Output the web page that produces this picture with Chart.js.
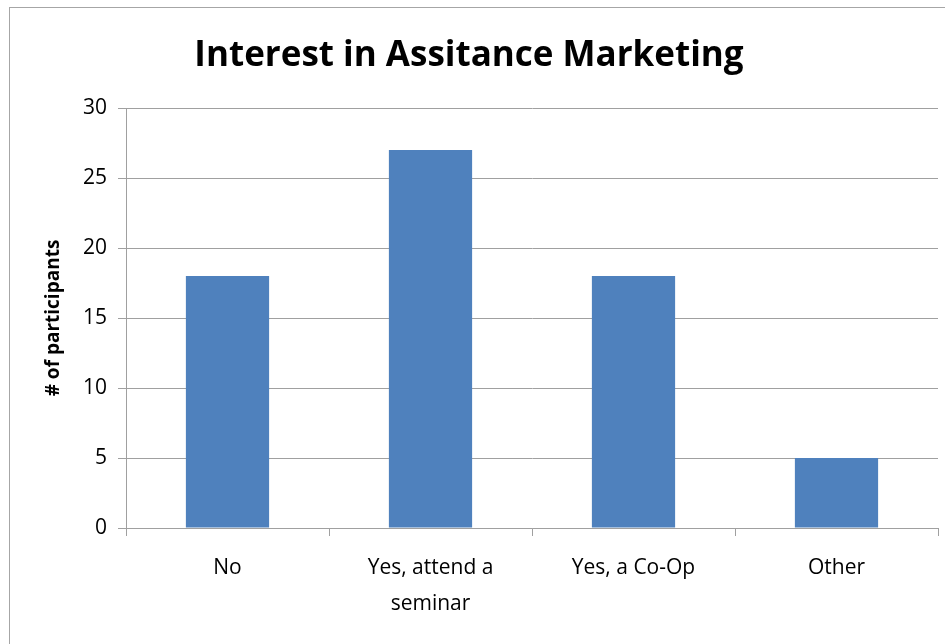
<!DOCTYPE html>
<html>
<head>
<meta charset="utf-8">
<script src="https://cdn.jsdelivr.net/npm/chart.js@4/dist/chart.umd.min.js"></script>
<style>
  html, body { margin: 0; padding: 0; background: #fff; }
  #wrap { position: relative; width: 945px; height: 644px; overflow: hidden; }
  #frame { position: absolute; left: 9px; top: 7px; width: 945px; height: 644px;
           border: 1px solid #a6a6a6; pointer-events: none; }
</style>
</head>
<body>
<div id="wrap">
  <canvas id="chart" width="945" height="644"></canvas>
  <div id="frame"></div>
</div>
<script>
const categories = ['No', ['Yes, attend a', 'seminar'], 'Yes, a Co-Op', 'Other'];
const participants = [18, 27, 18, 5];
const yTicks = [0, 5, 10, 15, 20, 25, 30];

const gridGray = '#a0a0a0';
const font = 'Open Sans';

new Chart(document.getElementById('chart'), {
  type: 'bar',
  data: {
    labels: categories,
    datasets: [{
      data: participants,
      backgroundColor: '#4f81bd',
      barPercentage: 0.41,
      categoryPercentage: 1.0
    }]
  },
  options: {
    responsive: false,
    animation: false,
    layout: { padding: { left: 0, right: 7, top: 0, bottom: 0 } },
    plugins: {
      legend: { display: false },
      tooltip: { enabled: false },
      title: {
        display: true,
        text: 'Interest in Assitance Marketing',
        color: '#000',
        font: { family: font, size: 35, weight: 'bold', lineHeight: 1.2 },
        padding: { top: 35, bottom: 31 }
      }
    },
    scales: {
      x: {
        grid: { display: true, drawOnChartArea: false, drawTicks: true, tickLength: 8, color: gridGray },
        border: { color: gridGray },
        ticks: { color: '#000', padding: 14, maxRotation: 0, autoSkip: false,
                 font: { family: font, size: 21, lineHeight: '36px' } },
        afterFit: (s) => { s.height = 116; }
      },
      y: {
        min: 0,
        max: 30,
        afterBuildTicks: (s) => { s.ticks = yTicks.map(v => ({ value: v })); },
        grid: { color: gridGray, tickLength: 8 },
        border: { color: gridGray },
        ticks: { color: '#000', padding: 11, font: { family: font, size: 21 } },
        title: {
          display: true,
          text: '# of participants',
          color: '#000',
          font: { family: font, size: 19, weight: 'bold', lineHeight: 1.2 },
          padding: { top: 42, bottom: 0 }
        },
        afterFit: (s) => { s.width = 126; }
      }
    }
  }
});
</script>
</body>
</html>
